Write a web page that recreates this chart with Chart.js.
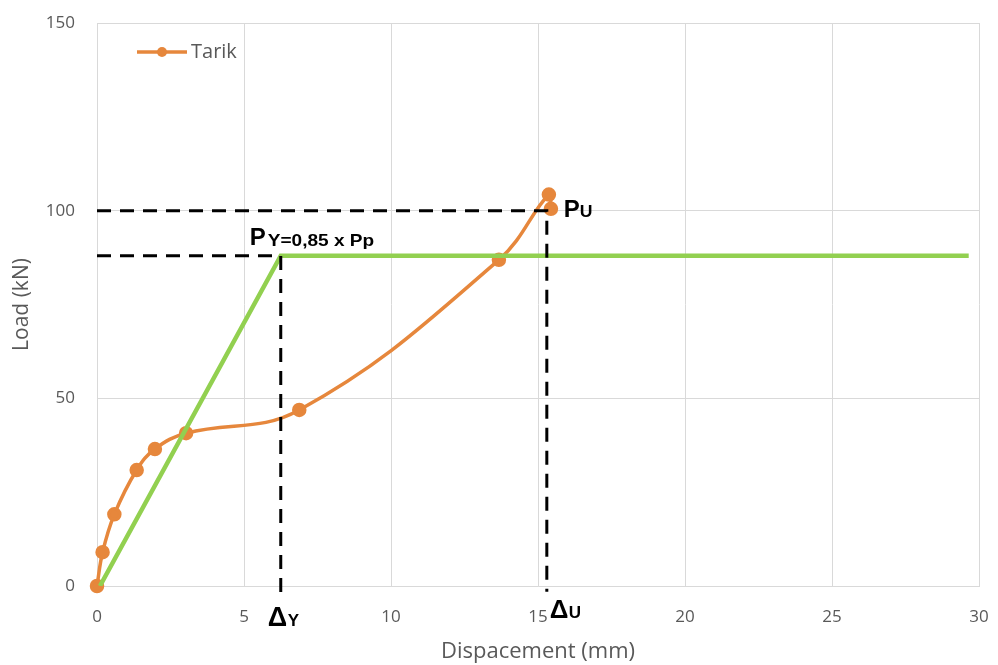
<!DOCTYPE html>
<html>
<head>
<meta charset="utf-8">
<script src="https://cdn.jsdelivr.net/npm/chart.js@4.4.1/dist/chart.umd.min.js"></script>
<style>
  html, body { margin: 0; padding: 0; background: #fff; }
  #wrap { width: 998px; height: 665px; position: relative; }
</style>
</head>
<body>
<div id="wrap"><canvas id="chart" width="998" height="665"></canvas></div>
<script>
// test data
const tarikX = [0, 0.19, 0.59, 1.35, 1.97, 3.03, 6.88, 13.67, 15.37, 15.44];
const tarikY = [0, 9.0, 19.1, 30.9, 36.5, 40.7, 46.9, 86.9, 104.3, 100.5];

// bilinear idealisation (green)
const bilinX = [0.1, 6.25, 29.65];
const bilinY = [0, 88, 88];

// guide lines for Pu / Py
const puGuideX = [0, 15.3, 15.3];
const puGuideY = [100, 100, -1.5];
const pyGuideX = [0, 6.25, 6.25];
const pyGuideY = [88, 88, -2];

const xTicks = [0, 5, 10, 15, 20, 25, 30];
const yTicks = [0, 50, 100, 150];

const toPts = (xs, ys) => xs.map((x, i) => ({ x: x, y: ys[i] }));

const ORANGE = '#E6873C';
const GREEN = '#92D050';
const GREY = '#595959';
const SANS = '"Open Sans", sans-serif';
const ARIAL = '"Liberation Sans", Arial, sans-serif';

// draw text with an optional horizontal stretch
function txt(ctx, s, x, y, font, sx) {
  ctx.save();
  ctx.font = font;
  ctx.translate(x, y);
  ctx.scale(sx || 1, 1);
  ctx.fillText(s, 0, 0);
  ctx.restore();
}

const labelsPlugin = {
  id: 'labels',
  afterDatasetsDraw(chart) {
    const ctx = chart.ctx;
    const xs = chart.scales.x, ys = chart.scales.y;
    ctx.save();
    ctx.fillStyle = '#000';
    ctx.textBaseline = 'alphabetic';
    ctx.textAlign = 'left';

    // P_Y label
    let px = xs.getPixelForValue(6.25) - 31, py = ys.getPixelForValue(88) - 11;
    txt(ctx, 'P', px, py, 'bold 24px ' + ARIAL);
    txt(ctx, 'Y=0,85 x Pp', px + 18, py + 1.5, 'bold 17px ' + ARIAL, 1.12);

    // P_U label
    px = xs.getPixelForValue(15.3) + 17; py = ys.getPixelForValue(100) + 6;
    txt(ctx, 'P', px, py, 'bold 24px ' + ARIAL);
    txt(ctx, 'U', px + 16, py, 'bold 16px ' + ARIAL, 1.1);

    // Delta labels below the axis
    px = xs.getPixelForValue(6.25) - 13; py = ys.getPixelForValue(0) + 40;
    txt(ctx, '\u0394', px, py, 'bold 27px ' + ARIAL);
    txt(ctx, 'Y', px + 20, py, 'bold 17px ' + ARIAL);

    px = xs.getPixelForValue(15.3) + 3; py = ys.getPixelForValue(0) + 32;
    txt(ctx, '\u0394', px, py, 'bold 26px ' + ARIAL);
    txt(ctx, 'U', px + 19, py, 'bold 17px ' + ARIAL);

    // legend inside the plot
    const lx = 137, ly = 52;
    ctx.strokeStyle = ORANGE;
    ctx.lineWidth = 3.5;
    ctx.beginPath(); ctx.moveTo(lx, ly); ctx.lineTo(lx + 50, ly); ctx.stroke();
    ctx.fillStyle = ORANGE;
    ctx.beginPath(); ctx.arc(lx + 25, ly, 5, 0, Math.PI * 2); ctx.fill();
    ctx.fillStyle = GREY;
    ctx.font = '20px ' + SANS;
    ctx.textBaseline = 'middle';
    ctx.fillText('Tarik', lx + 54, ly);
    ctx.restore();
  }
};

new Chart(document.getElementById('chart'), {
  type: 'scatter',
  data: {
    datasets: [
      {
        label: 'Tarik',
        data: toPts(tarikX, tarikY),
        showLine: true,
        borderColor: ORANGE,
        backgroundColor: ORANGE,
        borderWidth: 3.5,
        pointRadius: 5.5,
        pointHoverRadius: 5.5,
        tension: 0.4,
        clip: false,
        order: 2
      },
      {
        label: 'bilinear',
        data: toPts(bilinX, bilinY),
        showLine: true,
        borderColor: GREEN,
        borderWidth: 4.5,
        pointRadius: 0,
        tension: 0,
        order: 1
      },
      {
        label: 'pu',
        data: toPts(puGuideX, puGuideY),
        showLine: true,
        borderColor: '#000',
        borderWidth: 3,
        borderDash: [14, 9],
        pointRadius: 0,
        tension: 0,
        clip: false,
        order: 0
      },
      {
        label: 'py',
        data: toPts(pyGuideX, pyGuideY),
        showLine: true,
        borderColor: '#000',
        borderWidth: 3,
        borderDash: [14, 9],
        pointRadius: 0,
        tension: 0,
        clip: false,
        order: 0
      }
    ]
  },
  options: {
    responsive: false,
    animation: false,
    devicePixelRatio: 1,
    layout: { padding: { top: 23, right: 19, left: 0, bottom: 0 } },
    plugins: {
      legend: { display: false },
      tooltip: { enabled: false }
    },
    scales: {
      x: {
        type: 'linear',
        min: 0, max: 30,
        afterBuildTicks: s => { s.ticks = xTicks.map(v => ({ value: v })); },
        afterFit: s => { s.height = 79; s.paddingLeft = 0; s.paddingRight = 0; },
        grid: { color: '#D9D9D9', lineWidth: 1, drawTicks: false },
        border: { color: '#D9D9D9' },
        ticks: { color: GREY, font: { family: SANS, size: 17 }, padding: 21, maxRotation: 0 },
        title: { display: true, text: 'Dispacement (mm)', color: GREY, font: { family: SANS, size: 22 }, padding: { top: 0, bottom: 0 } }
      },
      y: {
        type: 'linear',
        min: 0, max: 150,
        afterBuildTicks: s => { s.ticks = yTicks.map(v => ({ value: v })); },
        afterFit: s => { s.width = 97; s.paddingTop = 0; s.paddingBottom = 0; },
        grid: { color: '#D9D9D9', lineWidth: 1, drawTicks: false },
        border: { color: '#D9D9D9' },
        ticks: { color: GREY, font: { family: SANS, size: 17 }, padding: 22 },
        title: { display: true, text: 'Load (kN)', color: GREY, font: { family: SANS, size: 21 }, padding: { top: 9, bottom: 0 } }
      }
    }
  },
  plugins: [labelsPlugin]
});
</script>
</body>
</html>
